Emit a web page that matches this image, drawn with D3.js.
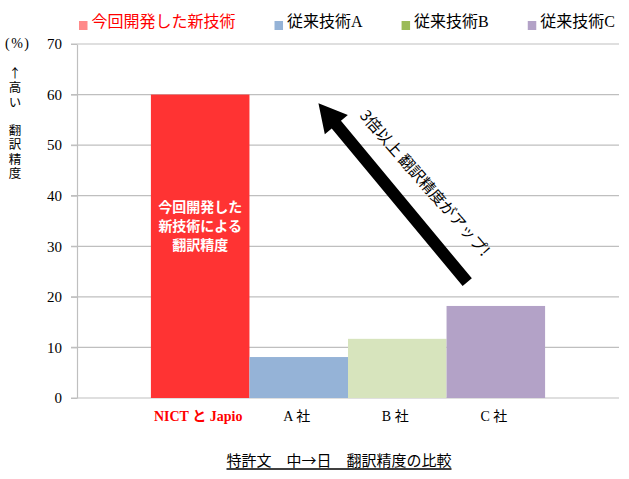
<!DOCTYPE html>
<html>
<head>
<meta charset="utf-8">
<script src="https://cdn.jsdelivr.net/npm/d3@7"></script>
<style>
  body { margin: 0; background: #fff; }
  svg { display: block; }
</style>
</head>
<body>
<svg id="canvas"></svg>
<script>
// chart values
const categories = ["NICT と Japio", "A 社", "B 社", "C 社"];
const accuracy = [60, 8.1, 11.7, 18.2];
const barColors = ["#ff3333", "#95b3d7", "#d7e4bd", "#b3a2c7"];

const legendLabels = ["今回開発した新技術", "従来技術A", "従来技術B", "従来技術C"];
const legendColors = ["#ff8a8a", "#95b3d7", "#9bbb59", "#b3a2c7"];

const yTicks = [0, 10, 20, 30, 40, 50, 60, 70];
const yLabel = "↑高い　翻訳精度";
const barNote = ["今回開発した", "新技術による", "翻訳精度"];
const arrowNote = "3倍以上 翻訳精度がアップ!";
const title = "特許文　中→日　翻訳精度の比較";

const width = 629;
const height = 479;
const plotLeft = 77, plotRight = 619, plotTop = 44, plotBottom = 398;

const serif = "'Liberation Serif', 'DejaVu Serif', 'Noto Sans CJK JP', serif";
const sans = "'Noto Sans CJK JP', sans-serif";

let canvas = d3.select("#canvas")
  .attr("width", width)
  .attr("height", height);

let xScale = d3.scaleBand()
  .domain(categories)
  .range([plotLeft, plotRight])
  .paddingInner(0)
  .paddingOuter(0.75);

let yScale = d3.scaleLinear()
  .domain([0, 70])
  .range([plotBottom, plotTop]);

// fractional category position -> pixel (0 = centre of first bar)
const xAt = (i) => xScale(categories[0]) + xScale.bandwidth() / 2 + i * xScale.step();

// gridlines
canvas.append("g")
  .selectAll("line")
  .data(yTicks)
  .enter()
  .append("line")
  .attr("x1", plotLeft - 6)
  .attr("x2", plotRight)
  .attr("y1", d => yScale(d))
  .attr("y2", d => yScale(d))
  .attr("stroke", "#bfbfbf")
  .attr("stroke-width", 1.2);

// y axis
let yAxis = d3.axisLeft(yScale)
  .tickValues(yTicks)
  .tickSize(6)
  .tickSizeOuter(0)
  .tickPadding(9)
  .tickFormat(d3.format("d"));

let yG = canvas.append("g")
  .attr("transform", `translate(${plotLeft},0)`)
  .call(yAxis);
yG.select(".domain").attr("stroke", "#bfbfbf").attr("stroke-width", 1.2);
yG.selectAll(".tick line").attr("stroke", "#bfbfbf");
yG.selectAll(".tick text")
  .attr("font-family", serif)
  .attr("font-size", 15)
  .attr("fill", "#000");

// bars
canvas.append("g")
  .selectAll("rect")
  .data(accuracy)
  .enter()
  .append("rect")
  .attr("x", (d, i) => xScale(categories[i]))
  .attr("width", xScale.bandwidth())
  .attr("y", d => yScale(d))
  .attr("height", d => yScale(0) - yScale(d))
  .attr("fill", (d, i) => barColors[i]);

// x labels
canvas.append("g")
  .selectAll("text")
  .data(categories)
  .enter()
  .append("text")
  .attr("x", d => xScale(d) + xScale.bandwidth() / 2 - 2)
  .attr("y", 421)
  .attr("text-anchor", "middle")
  .attr("font-family", serif)
  .attr("font-size", 14)
  .attr("font-weight", (d, i) => i === 0 ? "bold" : "normal")
  .attr("fill", (d, i) => i === 0 ? "#ff0000" : "#000")
  .text(d => d);

// note inside the red bar
canvas.append("g")
  .selectAll("text")
  .data(barNote)
  .enter()
  .append("text")
  .attr("x", xAt(0))
  .attr("y", (d, i) => yScale(34) + (i - 1) * 18.7 + 5)
  .attr("text-anchor", "middle")
  .attr("font-family", sans)
  .attr("font-size", 14)
  .attr("font-weight", "bold")
  .attr("fill", "#fff")
  .text(d => d);

// big arrow
const tail = [xAt(2.71), yScale(22.9)];
const tip = [xAt(1.20), yScale(58.3)];
const dx = tip[0] - tail[0], dy = tip[1] - tail[1];
const len = Math.hypot(dx, dy);
const ux = dx / len, uy = dy / len;
const px = -uy, py = ux;
const headLen = 28, headW = 15, shaftW = 6;
const base = [tip[0] - ux * headLen, tip[1] - uy * headLen];
const pts = [
  [tail[0] + px * shaftW, tail[1] + py * shaftW],
  [base[0] + px * shaftW, base[1] + py * shaftW],
  [base[0] + px * headW, base[1] + py * headW],
  tip,
  [base[0] - px * headW, base[1] - py * headW],
  [base[0] - px * shaftW, base[1] - py * shaftW],
  [tail[0] - px * shaftW, tail[1] - py * shaftW]
];
canvas.append("path")
  .attr("d", d3.line()(pts) + "Z")
  .attr("fill", "#000");

const angle = Math.atan2(-dy, -dx) * 180 / Math.PI;
canvas.append("text")
  .attr("transform", `translate(${xAt(2.28)},${yScale(42.5)}) rotate(${angle - 1.5})`)
  .attr("text-anchor", "middle")
  .attr("dy", "0.35em")
  .attr("font-family", sans)
  .attr("font-size", 15.5)
  .attr("fill", "#000")
  .text(arrowNote);

// y label
canvas.append("text")
  .attr("x", 5)
  .attr("y", 48)
  .attr("font-family", serif)
  .attr("font-size", 14)
  .attr("letter-spacing", 1.5)
  .attr("fill", "#000")
  .text("(%)");

canvas.append("text")
  .attr("x", 15)
  .attr("y", 67)
  .attr("writing-mode", "vertical-rl")
  .style("text-orientation", "upright")
  .attr("letter-spacing", 1.8)
  .attr("font-family", sans)
  .attr("font-size", 12.5)
  .attr("fill", "#000")
  .text(yLabel);

// legend
let lx = 79;
legendLabels.forEach((label, i) => {
  const g = canvas.append("g");
  g.append("rect")
    .attr("x", lx)
    .attr("y", 21)
    .attr("width", 8.5)
    .attr("height", 9)
    .attr("fill", legendColors[i]);
  const t = g.append("text")
    .attr("x", lx + 12.5)
    .attr("y", 27)
    .attr("font-family", serif)
    .attr("font-size", 16)
    .attr("fill", i === 0 ? "#ff0000" : "#000")
    .text(label);
  lx += 12.5 + t.node().getComputedTextLength() + 39;
});

// title with underline
const tt = canvas.append("text")
  .attr("x", 339)
  .attr("y", 466)
  .attr("text-anchor", "middle")
  .attr("font-family", sans)
  .attr("font-size", 15)
  .attr("fill", "#000")
  .text(title);
const tw = tt.node().getComputedTextLength();
canvas.append("line")
  .attr("x1", 339 - tw / 2)
  .attr("x2", 339 + tw / 2)
  .attr("y1", 469)
  .attr("y2", 469)
  .attr("stroke", "#000")
  .attr("stroke-width", 1.3);
</script>
</body>
</html>
